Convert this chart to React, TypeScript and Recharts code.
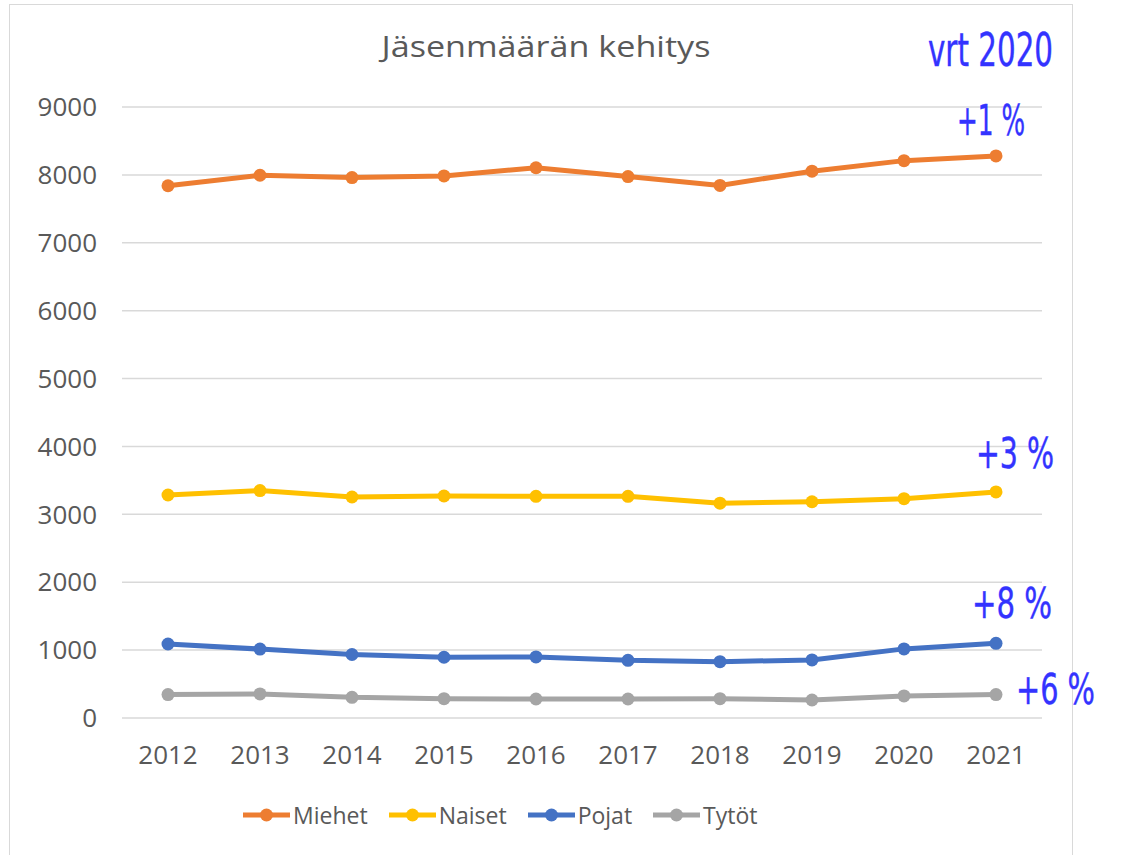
import { LineChart, Line, XAxis, YAxis, CartesianGrid, Legend } from 'recharts'

const years = ['2012', '2013', '2014', '2015', '2016', '2017', '2018', '2019', '2020', '2021']
const miehet = [7840, 7995, 7960, 7985, 8105, 7975, 7845, 8055, 8210, 8280]
const naiset = [3285, 3350, 3255, 3270, 3265, 3265, 3165, 3185, 3230, 3330]
const pojat = [1090, 1015, 935, 895, 900, 850, 830, 855, 1018, 1100]
const tytot = [345, 355, 305, 285, 280, 280, 285, 265, 325, 345]
const yTicks = [0, 1000, 2000, 3000, 4000, 5000, 6000, 7000, 8000, 9000]
const changeLabels = ['+1 %', '+3 %', '+8 %', '+6 %']

const FONT = '"Open Sans", "Noto Sans", sans-serif'
const NARROW = '"Liberation Sans Narrow", "DejaVu Sans Condensed", Roboto, sans-serif'
const BLUE = '#3333ff'
const GREY = '#595959'

const data = years.map((year, i) => ({
  year,
  Miehet: miehet[i],
  Naiset: naiset[i],
  Pojat: pojat[i],
  Tytöt: tytot[i],
}))

// label placement relative to the last point of each series
const series = [
  { key: 'Miehet', color: '#ED7D31', dx: -39, dy: -21, w: 68 },
  { key: 'Naiset', color: '#FFC000', dx: -20, dy: -24, w: 78 },
  { key: 'Pojat', color: '#4472C4', dx: -24, dy: -25, w: 80 },
  { key: 'Tytöt', color: '#A5A5A5', dx: 20, dy: 9, w: 79 },
]

const changeLabel = (s: number) => (props: any) => {
  const { x, y, index } = props
  if (index !== years.length - 1) return null
  const cfg = series[s]
  return (
    <text
      key={`lbl-${s}`}
      x={x + cfg.dx}
      y={y + cfg.dy}
      fill={BLUE}
      stroke={BLUE}
      strokeWidth={0.4}
      fontFamily={NARROW}
      fontSize={42}
      textLength={cfg.w}
      lengthAdjust="spacingAndGlyphs"
    >
      {changeLabels[s]}
    </text>
  )
}

const LegendContent = () => (
  <div style={{ display: 'flex', alignItems: 'center', height: 30, paddingLeft: 243 }}>
    {series.map((s) => (
      <div key={s.key} style={{ display: 'flex', alignItems: 'center', marginRight: 21 }}>
        <svg width={47} height={16}>
          <line x1={0} y1={8} x2={47} y2={8} stroke={s.color} strokeWidth={5} />
          <circle cx={23.5} cy={8} r={6.5} fill={s.color} />
        </svg>
        <span style={{ marginLeft: 3, fontFamily: FONT, fontSize: 23, color: GREY }}>{s.key}</span>
      </div>
    ))}
  </div>
)

export default function App() {
  return (
    <div style={{ position: 'fixed', left: 0, top: 0, width: 1125, height: 855, overflow: 'hidden', background: '#fff' }}>
      <div
        style={{
          position: 'absolute',
          left: 9,
          top: 4,
          width: 1064,
          height: 900,
          boxSizing: 'border-box',
          border: '1.5px solid #d9d9d9',
        }}
      />
      <div style={{ position: 'absolute', left: 0, top: 0 }}>
        <LineChart width={1125} height={855} data={data} margin={{ top: 107, right: 83, left: 42, bottom: 25 }}>
          <CartesianGrid vertical={false} stroke="#d9d9d9" strokeWidth={1.5} />
          <XAxis
            dataKey="year"
            axisLine={false}
            tickLine={false}
            tickSize={0}
            tickMargin={28}
            height={82}
            padding={{ left: 46, right: 46 }}
            tick={{ fill: GREY, fontSize: 26, fontFamily: FONT }}
          />
          <YAxis
            domain={[0, 9000]}
            ticks={yTicks}
            axisLine={false}
            tickLine={false}
            tickSize={0}
            tickMargin={25}
            width={80}
            tick={{ fill: GREY, fontSize: 26, fontFamily: FONT }}
          />
          <Legend verticalAlign="bottom" wrapperStyle={{ left: 0, width: 1125 }} content={<LegendContent />} />
          {series.map((s, i) => (
            <Line
              key={s.key}
              dataKey={s.key}
              stroke={s.color}
              strokeWidth={5}
              dot={{ r: 6.5, fill: s.color, stroke: s.color, strokeWidth: 0 }}
              activeDot={false}
              isAnimationActive={false}
              label={changeLabel(i)}
            />
          ))}
        </LineChart>
      </div>
      <svg width={1125} height={90} style={{ position: 'absolute', left: 0, top: 0, overflow: 'visible' }}>
        <text x={546} y={57} textAnchor="middle" fill={GREY} fontFamily={FONT} fontSize={30} textLength={329} lengthAdjust="spacingAndGlyphs">
          Jäsenmäärän kehitys
        </text>
        <text x={928} y={66} fill={BLUE} stroke={BLUE} strokeWidth={0.4} fontFamily={NARROW} fontSize={46} textLength={125} lengthAdjust="spacingAndGlyphs">
          vrt 2020
        </text>
      </svg>
    </div>
  )
}
